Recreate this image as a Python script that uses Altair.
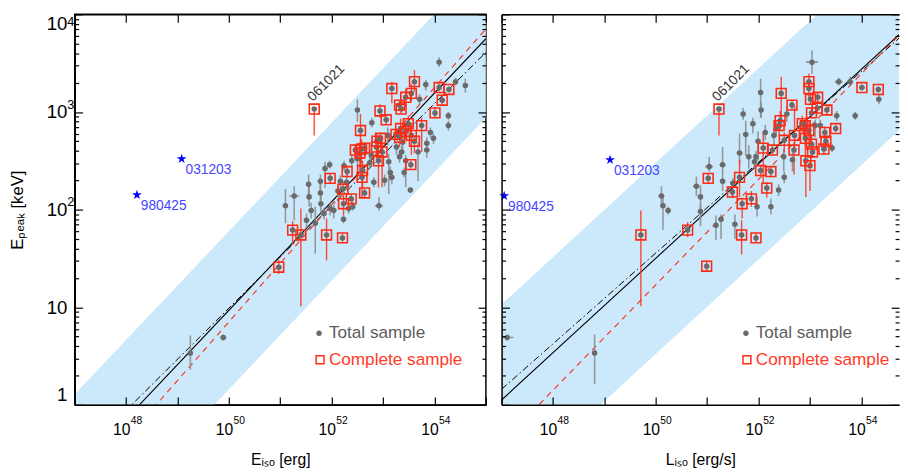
import altair as alt
import pandas as pd

FONT = "Liberation Sans"

# ---------------- LEFT PANEL: E_peak vs E_iso (log10 values) ----------------
# complete sample (red squares)
EISO_C_X = [51.66, 53.17, 53.61, 53.55, 53.44, 53.32, 53.35, 52.94, 53.06, 54.09, 54.28, 54.15, 54.01, 53.75, 53.49,
            53.34, 53.25, 53.32, 53.44, 53.55, 53.61, 52.56, 52.46, 52.58, 52.64, 52.55, 52.88, 52.95, 52.87, 52.98,
            52.91, 53.54, 52.30, 51.97, 52.60, 52.59, 52.22, 52.64, 52.38, 52.23, 51.24, 51.40, 51.90, 52.21, 50.97]
EISO_C_Y = [3.03, 3.24, 3.31, 3.19, 3.15, 3.07, 3.03, 3.01, 2.92, 3.25, 3.23, 3.12, 2.99, 2.86, 2.88,
            2.83, 2.77, 2.74, 2.80, 2.76, 2.70, 2.81, 2.61, 2.62, 2.63, 2.58, 2.70, 2.73, 2.64, 2.59,
            2.50, 2.46, 2.39, 2.32, 2.40, 2.33, 2.21, 2.17, 2.11, 2.06, 1.79, 1.74, 1.74, 1.71, 1.41]
EISO_C_DN = [0.27, 0.15, 0.10, 0.08, 0.10, 0.06, 0.05, 0.07, 0.05, 0.04, 0.03, 0.04, 0.05, 0.27, 0.10,
             0.12, 0.06, 0.10, 0.08, 0.20, 0.12, 0.48, 0.08, 0.15, 0.08, 0.18, 0.10, 0.08, 0.12, 0.36,
             0.27, 0.04, 0.06, 0.05, 0.17, 0.20, 0.08, 0.05, 0.05, 0.12, 0.15, 0.73, 0.26, 0.04, 0.07]
EISO_C_UP = [0.02, 0.07, 0.12, 0.10, 0.08, 0.05, 0.04, 0.07, 0.05, 0.04, 0.03, 0.04, 0.05, 0.08, 0.08,
             0.10, 0.06, 0.08, 0.08, 0.13, 0.06, 0.17, 0.05, 0.10, 0.06, 0.08, 0.08, 0.06, 0.10, 0.04,
             0.26, 0.04, 0.05, 0.05, 0.10, 0.12, 0.08, 0.04, 0.05, 0.08, 0.09, 0.27, 0.17, 0.04, 0.07]
EISO_C_XE = [0.04, 0.03, 0.03, 0.03, 0.03, 0.03, 0.04, 0.03, 0.03, 0.04, 0.04, 0.03, 0.03, 0.03, 0.03,
             0.03, 0.03, 0.04, 0.03, 0.03, 0.03, 0.03, 0.03, 0.06, 0.04, 0.05, 0.03, 0.03, 0.03, 0.04,
             0.03, 0.03, 0.03, 0.03, 0.03, 0.03, 0.03, 0.03, 0.03, 0.03, 0.03, 0.05, 0.03, 0.03, 0.05]
# rest of the total sample (grey dots)
EISO_T_X = [54.09, 53.83, 54.41, 54.60, 53.71, 52.50, 52.78, 53.09, 53.38, 53.85, 53.92, 54.27, 54.27, 53.98,
            53.26, 53.36, 53.32, 53.44, 53.41, 53.68, 53.85, 52.74, 52.77, 53.11, 53.14, 52.82, 53.03, 53.17,
            53.53, 52.92, 52.50, 52.39, 52.24, 51.96, 51.87, 51.78, 52.17, 52.29, 52.12, 51.55, 51.27, 51.56,
            51.79, 52.04, 51.97, 52.41, 52.23, 51.10, 51.85, 51.68, 51.51, 51.78, 51.60, 52.33, 49.89, 49.25]
EISO_T_Y = [3.51, 3.28, 3.31, 3.27, 3.13, 3.02, 2.89, 2.76, 2.69, 2.68, 2.79, 2.96, 2.86, 2.73,
            2.64, 2.59, 2.54, 2.50, 2.38, 2.59, 2.61, 2.48, 2.56, 2.49, 2.38, 2.28, 2.30, 2.33,
            2.20, 2.04, 2.52, 2.50, 2.45, 2.46, 2.42, 2.29, 2.29, 2.28, 2.19, 2.26, 2.14, 2.13,
            2.06, 1.99, 2.01, 2.03, 1.90, 2.04, 1.96, 1.86, 1.89, 2.17, 1.99, 2.01, 0.69, 0.53]
EISO_T_DN = [0.05, 0.06, 0.04, 0.07, 0.05, 0.12, 0.05, 0.10, 0.10, 0.06, 0.05, 0.04, 0.05, 0.06,
             0.08, 0.06, 0.06, 0.27, 0.05, 0.30, 0.08, 0.06, 0.05, 0.33, 0.08, 0.05, 0.06, 0.07,
             0.03, 0.05, 0.08, 0.07, 0.05, 0.04, 0.20, 0.14, 0.10, 0.08, 0.06, 0.12, 0.25, 0.10,
             0.10, 0.08, 0.07, 0.04, 0.04, 0.18, 0.06, 0.31, 0.08, 0.08, 0.08, 0.05, 0.03, 0.17]
EISO_T_UP = [0.05, 0.05, 0.04, 0.07, 0.05, 0.11, 0.05, 0.08, 0.12, 0.06, 0.05, 0.04, 0.05, 0.05,
             0.06, 0.06, 0.05, 0.06, 0.05, 0.10, 0.07, 0.08, 0.05, 0.08, 0.06, 0.05, 0.06, 0.05,
             0.03, 0.09, 0.10, 0.06, 0.05, 0.04, 0.07, 0.07, 0.06, 0.08, 0.06, 0.10, 0.10, 0.13,
             0.10, 0.06, 0.06, 0.06, 0.04, 0.17, 0.06, 0.17, 0.07, 0.14, 0.08, 0.05, 0.03, 0.18]
EISO_T_XE = [0.04, 0.03, 0.03, 0.03, 0.03, 0.03, 0.04, 0.05, 0.03, 0.03, 0.03, 0.03, 0.03, 0.03,
             0.03, 0.06, 0.03, 0.03, 0.03, 0.03, 0.03, 0.03, 0.03, 0.03, 0.03, 0.05, 0.03, 0.03,
             0.04, 0.08, 0.03, 0.03, 0.03, 0.03, 0.03, 0.03, 0.03, 0.03, 0.03, 0.03, 0.10, 0.03,
             0.03, 0.03, 0.03, 0.03, 0.03, 0.04, 0.03, 0.03, 0.03, 0.03, 0.03, 0.03, 0.06, 0.04]
# fits: log10(E_peak) at log10(x) = 47 and 55
FIT_X = [47, 55]
EISO_FIT_SOLID = [-0.70, 3.75]
EISO_FIT_DASHDOT = [-0.58, 3.61]
EISO_FIT_RED = [-0.95, 3.85]
EISO_BAND_HALF = 0.81
EISO_STAR_X = [48.21, 49.08]
EISO_STAR_Y = [2.15, 2.52]
STAR_NAMES = ["980425", "031203"]
EISO_061021 = [51.66, 3.03]

# ---------------- RIGHT PANEL: E_peak vs L_iso (log10 values) ----------------
LISO_C_X = [51.23, 52.44, 52.98, 52.98, 53.01, 53.15, 52.65, 53.14, 53.33, 53.03, 54.01, 54.33, 52.42, 52.40, 52.85,
            52.91, 52.98, 53.50, 53.29, 52.70, 52.91, 53.31, 52.50, 53.03, 52.69, 53.05, 53.27, 52.09, 52.27, 52.92,
            53.00, 52.04, 52.24, 51.02, 51.63, 51.49, 52.16, 51.86, 51.68, 50.62, 49.71, 51.67, 51.95, 50.99]
LISO_C_Y = [3.03, 3.19, 3.31, 3.24, 3.13, 3.15, 3.07, 3.04, 3.02, 2.99, 3.25, 3.23, 2.91, 2.86, 2.88,
            2.86, 2.81, 2.83, 2.79, 2.76, 2.73, 2.70, 2.71, 2.67, 2.61, 2.59, 2.62, 2.63, 2.61, 2.50,
            2.45, 2.40, 2.39, 2.32, 2.33, 2.18, 2.22, 2.11, 2.06, 1.79, 1.74, 1.74, 1.71, 1.42]
LISO_C_DN = [0.27, 0.35, 0.06, 0.10, 0.06, 0.05, 0.04, 0.05, 0.04, 0.05, 0.03, 0.03, 0.10, 0.10, 0.08,
             0.20, 0.20, 0.04, 0.10, 0.15, 0.30, 0.10, 0.12, 0.12, 0.25, 0.06, 0.06, 0.37, 0.05, 0.37,
             0.26, 0.05, 0.06, 0.05, 0.20, 0.06, 0.10, 0.08, 0.15, 0.07, 0.73, 0.20, 0.05, 0.06]
LISO_C_UP = [0.02, 0.17, 0.08, 0.05, 0.06, 0.05, 0.04, 0.05, 0.04, 0.05, 0.03, 0.03, 0.10, 0.06, 0.08,
             0.06, 0.10, 0.04, 0.06, 0.30, 0.10, 0.06, 0.08, 0.10, 0.08, 0.06, 0.06, 0.16, 0.05, 0.06,
             0.05, 0.05, 0.05, 0.05, 0.18, 0.06, 0.06, 0.08, 0.06, 0.08, 0.25, 0.15, 0.05, 0.06]
LISO_C_XE = [0.04, 0.03, 0.03, 0.03, 0.04, 0.04, 0.03, 0.03, 0.04, 0.03, 0.05, 0.05, 0.03, 0.03, 0.03,
             0.03, 0.03, 0.04, 0.03, 0.03, 0.03, 0.03, 0.03, 0.05, 0.03, 0.04, 0.03, 0.03, 0.03, 0.03,
             0.03, 0.03, 0.03, 0.03, 0.03, 0.03, 0.03, 0.03, 0.03, 0.04, 0.05, 0.03, 0.03, 0.04]
LISO_T_X = [53.04, 53.56, 53.78, 54.34, 53.88, 53.52, 52.04, 52.05, 51.70, 51.89, 51.75, 51.99, 52.13, 52.30,
            51.63, 51.81, 51.92, 51.95, 52.49, 52.66, 52.50, 51.30, 51.04, 50.79, 51.30, 50.87, 50.11, 50.14,
            50.24, 50.87, 51.17, 51.54, 51.97, 52.24, 52.39, 53.43, 53.10, 53.20, 52.55, 52.34, 51.50, 51.27,
            47.11, 48.81]
LISO_T_Y = [3.51, 3.31, 3.31, 3.13, 2.96, 2.96, 3.20, 3.02, 2.98, 2.88, 2.77, 2.70, 2.79, 2.76,
            2.58, 2.54, 2.49, 2.54, 2.54, 2.51, 2.33, 2.46, 2.44, 2.24, 2.29, 2.13, 2.14, 2.04,
            1.99, 1.98, 1.84, 1.85, 2.03, 2.03, 2.20, 2.63, 2.86, 2.86, 2.98, 2.83, 2.27, 1.90,
            0.69, 0.53]
LISO_T_DN = [0.12, 0.04, 0.05, 0.05, 0.04, 0.05, 0.26, 0.08, 0.06, 0.10, 0.22, 0.20, 0.08, 0.10,
             0.12, 0.12, 0.08, 0.06, 0.15, 0.12, 0.06, 0.08, 0.05, 0.10, 0.10, 0.22, 0.10, 0.25,
             0.04, 0.15, 0.15, 0.15, 0.10, 0.08, 0.06, 0.04, 0.12, 0.12, 0.08, 0.08, 0.15, 0.20,
             0.03, 0.32]
LISO_T_UP = [0.12, 0.04, 0.05, 0.05, 0.04, 0.05, 0.14, 0.08, 0.06, 0.06, 0.14, 0.10, 0.08, 0.06,
             0.20, 0.12, 0.08, 0.06, 0.08, 0.12, 0.06, 0.18, 0.10, 0.10, 0.10, 0.12, 0.10, 0.12,
             0.04, 0.08, 0.10, 0.10, 0.10, 0.08, 0.06, 0.04, 0.06, 0.06, 0.08, 0.08, 0.05, 0.05,
             0.03, 0.19]
LISO_T_XE = [0.12, 0.08, 0.06, 0.03, 0.03, 0.05, 0.03, 0.03, 0.04, 0.03, 0.03, 0.03, 0.03, 0.03,
             0.06, 0.03, 0.03, 0.03, 0.03, 0.03, 0.03, 0.06, 0.08, 0.06, 0.03, 0.03, 0.06, 0.03,
             0.03, 0.03, 0.03, 0.03, 0.03, 0.03, 0.03, 0.04, 0.03, 0.03, 0.03, 0.03, 0.03, 0.03,
             0.12, 0.03]
LISO_FIT_SOLID = [0.05, 3.92]
LISO_FIT_DASHDOT = [0.16, 3.88]
LISO_FIT_RED = [-0.39, 3.93]
LISO_BAND_HALF = 0.98
LISO_STAR_X = [47.05, 49.11]
LISO_STAR_Y = [2.14, 2.51]
LISO_061021 = [51.23, 3.03]

LEGEND_LABELS = ["Total sample", "Complete sample"]

# ---------------- styling ----------------
GRAY = "#6a6a6a"
GRAY_ERR = "#8a8a8a"
RED = "#ff2a12"
BAND = "#cbe9fb"
BLUE = "#0000ff"
STAR = "M0,-1L0.2245,-0.309L0.951,-0.309L0.363,0.118L0.588,0.809L0,0.382L-0.588,0.809L-0.363,0.118L-0.951,-0.309L-0.2245,-0.309Z"

XDEC = [float("1e%d" % e) for e in range(47, 56)]
YDEC = [1.0, 10.0, 100.0, 1000.0, 10000.0]
YMIN = [float(m) * d for d in [1.0, 10.0, 100.0, 1000.0] for m in range(2, 10)]
XBASE = "(datum.value == 1e48 || datum.value == 1e50 || datum.value == 1e52 || datum.value == 1e54) ? '10' : ''"
XEXP = ("datum.value == 1e48 ? '48' : datum.value == 1e50 ? '50' : "
        "datum.value == 1e52 ? '52' : datum.value == 1e54 ? '54' : ''")
YBASE = "datum.value == 1 ? '1' : '10'"
YEXP = "datum.value == 100 ? '2' : datum.value == 1000 ? '3' : '4'"

H = 398
PX_PER_DEC = 419 / 8.0


def pts_df(xs, ys, dn, up, xe):
    return pd.DataFrame({
        "x": [10 ** v for v in xs], "y": [10 ** v for v in ys],
        "ylo": [10 ** (v - d) for v, d in zip(ys, dn)], "yhi": [10 ** (v + u) for v, u in zip(ys, up)],
        "xlo": [10 ** (v - e) for v, e in zip(xs, xe)], "xhi": [10 ** (v + e) for v, e in zip(xs, xe)],
    })


def panel(cx, cy, cdn, cup, cxe, tx, ty, tdn, tup, txe, fsolid, fdd, fred, half,
          sx, sy, p061021, xtitle, first, width):
    xmax = 10 ** (47 + width / PX_PER_DEC)
    xdec = [v for v in XDEC if v <= xmax * 1.0001]
    XS = alt.Scale(type="log", domain=[1e47, xmax], nice=False)
    YS = alt.Scale(type="log", domain=[1, 1e4], nice=False)
    base = dict(grid=False, tickColor="black", tickWidth=1.2, zindex=1,
                labelFont=FONT, titleFont=FONT, labelColor="black", titleColor="black",
                titleFontWeight="normal", domainColor="black", domainWidth=1.5)
    ax_xb = alt.Axis(orient="bottom", values=xdec, labelExpr=XBASE, title=xtitle, tickSize=8, offset=-8,
                     domain=False, labelFontSize=16, labelPadding=17, labelOffset=-5, labelFlush=False,
                     labelOverlap=False, titleFontSize=16, titlePadding=15, **base)
    ax_xe = alt.Axis(orient="bottom", values=xdec, labelExpr=XEXP, title=None, ticks=False, domain=True,
                     labelFontSize=10.5, labelPadding=11, labelOffset=10, labelFlush=False,
                     labelOverlap=False, **base)
    ax_xt = alt.Axis(orient="top", values=xdec, labels=False, title=None, tickSize=8, offset=-8,
                     domain=False, **base)
    ax_xtd = alt.Axis(orient="top", values=xdec, labels=False, ticks=False, title=None, domain=True, **base)
    if first:
        ax_yl = alt.Axis(orient="left", values=YDEC, labelExpr=YBASE, title="E\u209a\u2091\u2090\u2096 [keV]",
                         tickSize=8, offset=-8, domain=False, labelFontSize=19, labelPadding=8,
                         labelFlush=True, labelOverlap=False, titleFontSize=17, titlePadding=20, **base)
        ax_ye = alt.Axis(orient="left", values=[100.0, 1000.0, 10000.0], labelExpr=YEXP, title=None,
                         ticks=False, domain=True, labelFontSize=13, labelPadding=1, labelFlush=False,
                         labelOverlap=False,
                         labelOffset={"condition": {"test": "datum.value == 10000", "value": 7}, "value": -8},
                         **base)
    else:
        ax_yl = alt.Axis(orient="left", values=YDEC, labels=False, title=None, tickSize=8, offset=-8,
                         domain=False, **base)
        ax_ye = alt.Axis(orient="left", values=YDEC, labels=False, ticks=False, title=None, domain=True, **base)
    ax_yr = alt.Axis(orient="right", values=YDEC, labels=False, title=None, tickSize=8, offset=-8,
                     domain=False, **base)
    ax_ylm = alt.Axis(orient="left", values=YMIN, labels=False, title=None, tickSize=4, offset=-4,
                      domain=False, **base)
    ax_yrm = alt.Axis(orient="right", values=YMIN, labels=False, title=None, tickSize=4, offset=-4,
                      domain=False, **base)

    def X(f, axis=None):
        return alt.X(f, type="quantitative", scale=XS, axis=axis)

    def Y(f, axis=None):
        return alt.Y(f, type="quantitative", scale=YS, axis=axis)

    band_df = pd.DataFrame({"x": [10 ** v for v in FIT_X],
                            "lo": [10 ** (v - half) for v in fsolid],
                            "hi": [10 ** (v + half) for v in fsolid]})
    band = alt.Chart(band_df).mark_area(color=BAND, clip=True).encode(
        x=X("x", ax_xb), y=Y("lo", ax_yl), y2="hi")

    def fit(vals, axx, axy, **kw):
        d = pd.DataFrame({"x": [10 ** v for v in FIT_X], "y": [10 ** v for v in vals]})
        return alt.Chart(d).mark_line(clip=True, **kw).encode(x=X("x", axx), y=Y("y", axy))

    solid = fit(fsolid, ax_xt, ax_yr, color="black", strokeWidth=1.1)
    dd = fit(fdd, ax_xe, ax_ylm, color="black", strokeWidth=1, strokeDash=[7, 3, 1.5, 3])
    red = fit(fred, ax_xtd, ax_yrm, color=RED, strokeWidth=1.1, strokeDash=[6, 5])

    tdf = pts_df(tx, ty, tdn, tup, txe)
    cdf = pts_df(cx, cy, cdn, cup, cxe)
    alldf = pd.concat([tdf, cdf], ignore_index=True)

    g_v = alt.Chart(tdf).mark_rule(color=GRAY_ERR, strokeWidth=1.6, opacity=0.85, clip=True).encode(
        x=X("x"), y=Y("ylo", ax_ye), y2="yhi")
    g_h = alt.Chart(tdf).mark_rule(color=GRAY_ERR, strokeWidth=1.6, opacity=0.85, clip=True).encode(
        x=X("xlo"), x2="xhi", y=Y("y"))
    r_v = alt.Chart(cdf).mark_rule(color=RED, strokeWidth=1.4, opacity=0.85, clip=True).encode(
        x=X("x"), y=Y("ylo"), y2="yhi")
    r_h = alt.Chart(cdf).mark_rule(color=RED, strokeWidth=1.4, opacity=0.85, clip=True).encode(
        x=X("xlo"), x2="xhi", y=Y("y"))
    dots = alt.Chart(alldf).mark_circle(color=GRAY, size=32, opacity=1, clip=True).encode(x=X("x"), y=Y("y"))
    squares = alt.Chart(cdf).mark_point(shape="square", filled=False, color=RED, size=100,
                                        strokeWidth=1.6, opacity=1, clip=True).encode(x=X("x"), y=Y("y"))

    sdf = pd.DataFrame({"x": [10 ** v for v in sx], "y": [10 ** v for v in sy], "name": STAR_NAMES})
    stars = alt.Chart(sdf).mark_point(shape=STAR, filled=True, color=BLUE, size=110, opacity=1).encode(
        x=X("x"), y=Y("y"))
    star_txt = alt.Chart(sdf).mark_text(align="left", baseline="middle", dx=4, dy=11, fontSize=14,
                                        font=FONT, color="#4646ff").encode(x=X("x"), y=Y("y"), text="name:N")
    ldf = pd.DataFrame({"x": [10 ** p061021[0]], "y": [10 ** p061021[1]], "name": ["061021"]})
    lab = alt.Chart(ldf).mark_text(align="left", baseline="alphabetic", angle=315, dx=4, dy=-6,
                                   fontSize=14, font=FONT, color="#333333").encode(
        x=X("x"), y=Y("y"), text="name:N")

    leg1 = pd.DataFrame({"t": [LEGEND_LABELS[0]]})
    leg2 = pd.DataFrame({"t": [LEGEND_LABELS[1]]})
    ld = alt.Chart(leg1).mark_circle(color=GRAY, size=30, opacity=1).encode(x=alt.value(249), y=alt.value(325))
    lt1 = alt.Chart(leg1).mark_text(align="left", baseline="middle", fontSize=17.5, font=FONT,
                                    color="#5c5c5c").encode(x=alt.value(259), y=alt.value(325), text="t:N")
    ls = alt.Chart(leg2).mark_point(shape="square", filled=False, color=RED, size=64, strokeWidth=1.5,
                                    opacity=1).encode(x=alt.value(250), y=alt.value(352))
    lt2 = alt.Chart(leg2).mark_text(align="left", baseline="middle", fontSize=17.5, font=FONT,
                                    color="#ff3a26").encode(x=alt.value(259), y=alt.value(352), text="t:N")

    props = dict(width=width, height=H)
    if not first:
        props["view"] = alt.ViewBackground(strokeOpacity=0)
    return alt.layer(band, solid, dd, red, g_v, g_h, r_v, r_h, dots, squares, stars, star_txt, lab,
                     ld, lt1, ls, lt2).resolve_axis(x="independent", y="independent").properties(**props)


left = panel(EISO_C_X, EISO_C_Y, EISO_C_DN, EISO_C_UP, EISO_C_XE,
             EISO_T_X, EISO_T_Y, EISO_T_DN, EISO_T_UP, EISO_T_XE,
             EISO_FIT_SOLID, EISO_FIT_DASHDOT, EISO_FIT_RED, EISO_BAND_HALF,
             EISO_STAR_X, EISO_STAR_Y, EISO_061021, "E\u1d62\u209b\u2092 [erg]", True, 419)
right = panel(LISO_C_X, LISO_C_Y, LISO_C_DN, LISO_C_UP, LISO_C_XE,
              LISO_T_X, LISO_T_Y, LISO_T_DN, LISO_T_UP, LISO_T_XE,
              LISO_FIT_SOLID, LISO_FIT_DASHDOT, LISO_FIT_RED, LISO_BAND_HALF,
              LISO_STAR_X, LISO_STAR_Y, LISO_061021, "L\u1d62\u209b\u2092 [erg/s]", False, 405)

chart = alt.hconcat(left, right, spacing=0).properties(
    padding={"left": 0, "top": 0, "right": 0, "bottom": 0}, background="white"
).configure_view(stroke="black", strokeWidth=1.5)

chart.save("out.html", embed_options={"renderer": "svg", "actions": False})
